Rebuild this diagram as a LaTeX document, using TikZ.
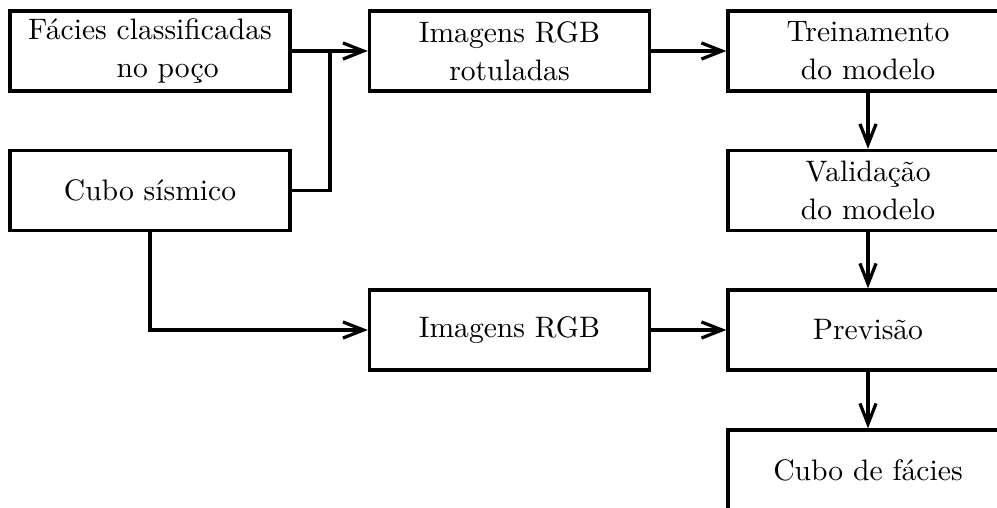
\documentclass[tikz,border=0pt]{standalone}
\usetikzlibrary{arrows.meta}
\begin{document}
\begin{tikzpicture}[x=0.341pt,y=-0.341pt,
  box/.style={draw,line width=1.1pt,minimum width=95.5pt,minimum height=27.3pt,
    inner sep=0pt,align=center,font=\fontsize{10.1}{13}\selectfont},
  flow/.style={line width=1.1pt,-{Straight Barb[length=7pt,width=5.5pt]}},
  link/.style={line width=1.1pt}]
\useasboundingbox (0,0) rectangle (997,508);
\fill[white] (0,0) rectangle (997,508);
\clip (0,0) rectangle (997,508);

% left column
\node[box] (facies) at (150,51) {Fácies classificadas\\\hspace*{12pt}no poço};
\node[box] (cubo) at (150,190.5) {Cubo sísmico};

% middle column
\node[box] (rotul) at (509.5,51) {Imagens RGB\\rotuladas};
\node[box] (rgb) at (509.5,330) {Imagens RGB};

% right column
\node[box] (trein) at (868,51) {Treinamento\\do modelo};
\node[box] (valid) at (868,190.5) {Validação\\do modelo};
\node[box] (prev) at (868,330) {Previsão};
\node[box] (fac) at (868,470) {Cubo de fácies};

% merge point of the two inputs
\coordinate (j) at (330,51);

\draw[flow] (facies.east) -- (rotul.west);
\draw[link] (cubo.east) -| (j);
\draw[flow] (rotul) -- (trein);
\draw[flow] (trein) -- (valid);
\draw[flow] (valid) -- (prev);
\draw[flow] (prev) -- (fac);
\draw[flow] (cubo.south) |- (rgb.west);
\draw[flow] (rgb) -- (prev);
\end{tikzpicture}
\end{document}
